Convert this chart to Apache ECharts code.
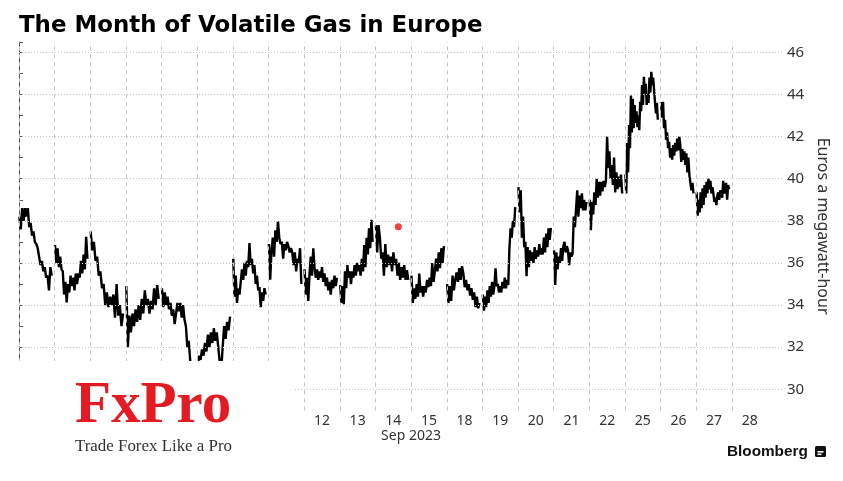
<!DOCTYPE html>
<html><head><meta charset="utf-8">
<script src="https://cdn.jsdelivr.net/npm/echarts@6/dist/echarts.min.js"></script>
<style>html,body{margin:0;padding:0;background:#fff}#c{width:843px;height:481px}</style>
</head><body><div id="c"></div>
<script>
// Trading-day slot labels (first eight are hidden under the logo box)
const dayLabels = ['31','1','4','5','6','7','8','11','12','13','14','15','18','19','20','21','22','25','26','27','28'];
// Intraday price paths per trading day (EUR/MWh)
const d0  = [38.2,37.6,38.6,38.0,38.6,38.2,38.6,37.7,37.9,37.3,37.5,37.0,36.9,36.7,36.3,35.9,36.1,35.6,35.8,35.3,35.4,34.7,35.8,35.4];
const d1  = [36.85,36.0,36.7,35.8,36.3,35.7,35.6,34.5,35.1,34.13,35.0,34.6,35.4,34.9,35.3,34.7,35.5,35.0,35.5,35.3,36.1,35.5,36.4,35.7,37.24,36.2];
const d2  = [37.5,36.6,37.0,36.1,36.3,35.4,35.6,34.8,35.0,34.0,34.6,33.9,34.4,34.0,34.5,33.4,35.0,33.5,34.0,33.0,33.6];
const d3  = [34.9,32.0,33.5,32.7,33.6,33.0,33.8,33.2,34.0,33.3,34.3,33.6,34.7,34.0,34.3,33.6,34.2,33.8,34.8,34.0,34.95,34.3];
const d4  = [34.8,33.9,34.6,34.0,34.4,33.8,34.1,33.5,33.8,33.1,33.6,34.1,33.7,34.1,33.4,34.0,33.3,33.0,32.0,32.3,31.4,31.0,30.8,31.0];
const d5  = [31.0,31.6,31.4,31.9,31.6,32.2,31.8,32.6,32.0,32.7,32.2,32.9,32.3,32.7,32.0,31.3,30.9,32.0,33.0,32.4,33.2,32.8,33.45];
const d6  = [36.2,34.4,35.4,34.1,34.8,34.5,35.1,35.7,35.2,36.0,35.4,36.1,35.8,36.95,35.9,36.2,35.5,35.9,35.0,35.4,34.7,34.85,33.9,34.6,34.2,34.8,34.5];
const d7  = [36.9,35.2,36.6,37.2,36.3,37.55,37.0,37.98,37.2,36.9,37.0,36.2,36.9,36.6,37.0,36.8,36.5,36.7,36.5,35.9,36.5,35.6,36.2,36.0,36.7,35.0];
const d8  = [35.7,34.5,35.3,34.2,35.5,36.3,35.4,36.7,35.8,35.3,35.7,35.2,35.6,35.3,35.8,35.1,35.5,34.9,35.3,34.7,35.1,34.5,35.2,34.8,35.4,34.9,35.3];
const d9  = [34.95,34.1,34.9,34.04,35.6,34.8,35.9,35.3,35.6,35.0,35.6,35.3,35.9,35.4,36.0,35.6,35.9,35.4,36.2,35.6,36.85,35.8,37.2,36.4,37.65,36.7,38.05,37.0];
const d10 = [37.8,36.5,37.8,37.2,36.2,36.5,35.4,36.9,35.8,36.4,35.9,36.3,35.6,36.5,35.9,36.2,35.4,36.0,35.2,35.8,35.3,35.9,35.2,35.66,35.2];
const d11 = [35.4,34.1,34.8,34.3,35.0,34.4,35.5,34.6,34.9,34.4,34.9,34.6,35.2,34.85,35.3,34.9,36.0,35.1,35.6,36.2,35.6,36.5,35.75,36.7,36.0,36.8];
const d12 = [35.0,34.1,34.9,34.2,35.4,34.7,35.2,35.55,35.1,35.75,35.2,35.85,35.5,34.85,35.2,34.7,35.0,34.45,34.8,34.25,34.6,33.9,34.4,33.85,34.1];
const d13 = [34.5,33.73,34.4,33.9,34.7,34.1,34.9,34.4,35.1,34.5,34.9,35.75,34.9,35.0,34.6,34.9,34.6,35.1,34.8,35.3,34.8,35.2,34.95,36.7,37.65,37.2,38.0,37.7,38.65];
const d14 = [39.6,38.4,39.45,37.2,38.2,36.75,37.0,35.37,36.75,35.8,36.6,36.1,36.5,36.0,36.75,36.2,36.6,36.3,36.9,36.4,36.7,36.4,37.2,36.5,37.4,36.75,37.65,37.1,37.67];
const d15 = [36.6,34.95,36.5,35.7,36.3,36.0,36.7,36.1,36.8,37.0,36.5,36.8,36.6,35.9,36.5,36.3,36.45,38.2,37.7,38.6,39.45,38.2,39.2,38.6,39.3,38.5,39.0,38.5,38.9];
const d16 = [39.0,37.55,38.9,38.3,39.35,38.75,40.0,39.1,39.85,39.2,39.85,39.4,39.9,39.6,39.9,42.0,40.5,41.3,40.0,40.65,39.7,41.0,39.35,40.3,39.5,40.1,39.6,40.2,39.3];
const d17 = [40.2,39.3,41.7,40.3,42.55,41.45,43.95,42.2,43.8,42.4,43.5,42.65,43.2,42.45,43.0,42.3,43.65,43.2,44.45,43.5,44.84,44.05,44.5,43.5,44.0,43.6,44.8,44.1,45.08,44.45,44.8,44.2,43.6,43.1,43.6,42.8];
const d18 = [43.65,42.9,43.65,42.4,42.8,41.85,42.2,41.45,41.75,41.0,41.45,40.9,41.6,41.1,41.7,41.3,41.9,41.35,42.0,41.6,40.8,41.4,40.9,41.3,40.65,41.2,40.3,41.0,40.15,40.1,39.45,39.8,39.3];
const d19 = [39.35,38.24,39.0,38.4,39.35,38.6,39.55,38.75,39.7,39.1,39.85,39.3,40.0,39.5,39.9,39.3,39.6,39.3,38.9,39.1,38.75,39.2,39.35,39.0,39.45,39.5,39.1,39.9,39.3,39.6,39.8,39.0,39.7,39.5];
const days = [d0,d1,d2,d3,d4,d5,d6,d7,d8,d9,d10,d11,d12,d13,d14,d15,d16,d17,d18,d19];
// Annotation dot [day position, price]
const redDot = [10.64, 37.72];
// Y gridline values
const yGrid = [30,32,34,36,38,40,42,44,46];

const pts = [];
days.forEach((vals, k) => {
  const n = vals.length;
  vals.forEach((v, i) => pts.push([k + 0.01 + 0.91 * i / (n - 1), v]));
  pts.push([k + 0.97, null]);
});
const vLines = dayLabels.map((_, k) => ({ xAxis: k }));
const hLines = yGrid.map(v => ({ yAxis: v }));

const chart = echarts.init(document.getElementById('c'), null, { renderer: 'canvas' });
const font = 'Noto Sans';
chart.setOption({
  animation: false,
  backgroundColor: '#fff',
  title: {
    text: 'The Month of Volatile Gas in Europe', left: 14, top: 10,
    textStyle: { fontFamily: 'DejaVu Sans', fontWeight: 'bold', fontSize: 22.9, color: '#000' }
  },
  grid: { left: 19, right: 59, top: 41.8, bottom: 70.6, containLabel: false },
  xAxis: {
    type: 'value', min: 0, max: 21.46, interval: 1,
    axisLine: { show: false }, axisTick: { show: false }, splitLine: { show: false },
    axisLabel: {
      formatter: v => (Number.isInteger(v) && v < dayLabels.length) ? dayLabels[v] : '',
      padding: [0, 0, 0, 35.6], margin: 4, color: '#333', fontSize: 14, fontFamily: font
    }
  },
  yAxis: {
    type: 'value', position: 'right', min: 29, max: 46.5, interval: 1,
    axisLine: { show: true, lineStyle: { color: '#555', width: 1 } },
    axisTick: { show: true, inside: false, length: 4, lineStyle: { color: '#555' } },
    splitLine: { show: false },
    axisLabel: {
      formatter: v => (Number.isInteger(v) && v % 2 === 0) ? String(v) : '',
      margin: 3, color: '#333', fontSize: 15, fontFamily: font
    },
    name: 'Euros a megawatt-hour', nameLocation: 'middle', nameRotate: -90, nameGap: 24,
    nameTextStyle: { fontSize: 16, color: '#333', fontFamily: font }
  },
  series: [
    {
      type: 'line', data: [], z: 1, silent: true,
      markLine: {
        silent: true, symbol: ['none', 'none'], label: { show: false }, animation: false,
        data: vLines.map(d => Object.assign({ lineStyle: { color: '#c4c4c4', type: [4, 4], width: 1 } }, d))
          .concat(hLines.map(d => Object.assign({ lineStyle: { color: '#c4c4c4', type: [1, 2], width: 1 } }, d)))
      }
    },
    {
      type: 'line', data: pts, z: 3, showSymbol: false, symbol: 'none', connectNulls: false,
      lineStyle: { color: '#000', width: 2.4 }, silent: true
    },
    {
      type: 'scatter', data: [redDot], z: 4, symbolSize: 7, itemStyle: { color: '#f01010' }, silent: true
    }
  ],
  graphic: [
    { type: 'rect', z: 100, shape: { x: 0, y: 361, width: 294, height: 120 }, style: { fill: '#fff' } },
    { type: 'text', z: 101, x: 75, y: 407, style: { text: 'FxPro', fill: '#e31b23', font: 'bold 59px "Liberation Serif"', verticalAlign: 'middle', align: 'left' } },
    { type: 'text', z: 101, x: 75, y: 447, style: { text: 'Trade Forex Like a Pro', fill: '#333', font: '16.9px "Liberation Serif"', verticalAlign: 'middle', align: 'left' } },
    { type: 'text', z: 101, x: 411, y: 436, style: { text: 'Sep 2023', fill: '#333', font: '14px "Noto Sans"', verticalAlign: 'middle', align: 'center' } },
    { type: 'text', z: 101, x: 727, y: 452, style: { text: 'Bloomberg', fill: '#111', font: 'bold 15.3px "Liberation Sans"', verticalAlign: 'middle', align: 'left' } },
    { type: 'rect', z: 101, shape: { x: 815, y: 446, width: 11, height: 11, r: 1.5 }, style: { fill: '#111' } },
    { type: 'rect', z: 102, shape: { x: 817.5, y: 451, width: 6, height: 1.6 }, style: { fill: '#fff' } },
    { type: 'rect', z: 102, shape: { x: 817.5, y: 453.5, width: 4, height: 1.6 }, style: { fill: '#fff' } }
  ]
});
</script></body></html>
